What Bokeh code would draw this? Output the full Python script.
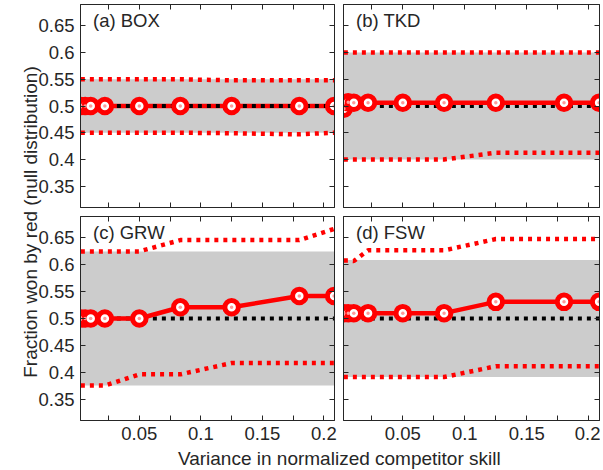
from bokeh.plotting import figure
from bokeh.models import Range1d, LinearAxis, FixedTicker, Label
from bokeh.layouts import row, column
from bokeh.embed import file_html
from bokeh.resources import INLINE

# ---------------- data ----------------
x_var = [0.0025, 0.006, 0.0105, 0.022, 0.05, 0.0833, 0.125, 0.18, 0.2083]
null_level = [0.5, 0.5, 0.5, 0.5, 0.5, 0.5, 0.5, 0.5, 0.5]

box_mean = [0.5, 0.5, 0.5, 0.5, 0.5, 0.5, 0.5, 0.5, 0.5]
box_upper = [0.55, 0.55, 0.55, 0.55, 0.55, 0.55, 0.548, 0.548, 0.548]
box_lower = [0.45, 0.45, 0.45, 0.45, 0.45, 0.45, 0.449, 0.447, 0.45]
box_band_lo = [0.45, 0.45, 0.45, 0.45, 0.45, 0.45, 0.45, 0.45, 0.45]
box_band_hi = [0.55, 0.55, 0.55, 0.55, 0.55, 0.55, 0.55, 0.55, 0.55]

tkd_mean = [0.495, 0.507, 0.506, 0.506, 0.506, 0.506, 0.506, 0.506, 0.506]
tkd_upper = [0.6, 0.6, 0.6, 0.6, 0.6, 0.6, 0.6, 0.6, 0.6]
tkd_lower = [0.4, 0.4, 0.4, 0.4, 0.4, 0.4, 0.4125, 0.4125, 0.4125]
tkd_band_lo = [0.4, 0.4, 0.4, 0.4, 0.4, 0.4, 0.4, 0.4, 0.4]
tkd_band_hi = [0.6, 0.6, 0.6, 0.6, 0.6, 0.6, 0.6, 0.6, 0.6]

grw_mean = [0.5, 0.5, 0.5, 0.5, 0.5, 0.521, 0.521, 0.542, 0.542]
grw_upper = [0.625, 0.625, 0.625, 0.625, 0.625, 0.646, 0.646, 0.646, 0.667]
grw_lower = [0.375, 0.375, 0.375, 0.375, 0.396, 0.396, 0.417, 0.417, 0.417]
grw_band_lo = [0.375, 0.375, 0.375, 0.375, 0.375, 0.375, 0.375, 0.375, 0.375]
grw_band_hi = [0.625, 0.625, 0.625, 0.625, 0.625, 0.625, 0.625, 0.625, 0.625]

fsw_mean = [0.51, 0.51, 0.51, 0.51, 0.51, 0.51, 0.531, 0.531, 0.531]
fsw_upper = [0.608, 0.608, 0.607, 0.627, 0.627, 0.627, 0.648, 0.648, 0.648]
fsw_lower = [0.391, 0.391, 0.391, 0.391, 0.391, 0.391, 0.411, 0.411, 0.411]
fsw_band_lo = [0.391, 0.391, 0.391, 0.391, 0.391, 0.391, 0.391, 0.391, 0.391]
fsw_band_hi = [0.609, 0.609, 0.609, 0.609, 0.609, 0.609, 0.609, 0.609, 0.609]

panel_titles = ["(a) BOX", "(b) TKD", "(c) GRW", "(d) FSW"]

x_ticks = [0.05, 0.1, 0.15, 0.2]
x_tick_labels = ["0.05", "0.1", "0.15", "0.2"]
x_minor_ticks = [0.025, 0.075, 0.125, 0.175]
y_ticks = [0.35, 0.4, 0.45, 0.5, 0.55, 0.6, 0.65]
y_tick_labels = ["0.35", "0.4", "0.45", "0.5", "0.55", "0.6", "0.65"]

x_label = "Variance in normalized competitor skill"
y_label = "Fraction won by red (null distribution)"

X_START, X_END = 0.0022, 0.2086
Y_START, Y_END = 0.31, 0.69

# ---------------- style ----------------
FONT = "Liberation Sans"
INK = "#262626"
RED = "#ff0000"
GRAY = "#cccccc"
TICK_FS = "18.5px"
LABEL_FS = "19px"


def add_axis(p, side, ticks, labels, minor, show):
    ax = LinearAxis(
        ticker=FixedTicker(ticks=ticks, minor_ticks=minor),
        major_label_overrides={t: l for t, l in zip(ticks, labels)},
        axis_line_color=INK, axis_line_width=1,
        major_tick_line_color=INK, minor_tick_line_color=INK,
        major_tick_in=5, major_tick_out=0, minor_tick_in=5, minor_tick_out=0,
        major_label_text_font=FONT,
        major_label_text_font_size=TICK_FS if show else "0px",
        major_label_text_color=INK if show else None,
        major_label_standoff=6 if show else 0,
    )
    p.add_layout(ax, side)


def make_panel(title, mean, upper, lower, band_lo, band_hi, black_on_top,
               show_x, show_y, w, h, bl, br, bt, bb):
    p = figure(width=w, height=h, x_range=Range1d(X_START, X_END),
               y_range=Range1d(Y_START, Y_END), output_backend="svg",
               toolbar_location=None, x_axis_location=None, y_axis_location=None,
               min_border_left=bl, min_border_right=br, min_border_top=bt,
               min_border_bottom=bb, outline_line_color=INK, outline_line_width=1,
               background_fill_color="white", border_fill_color="white",
               border_fill_alpha=0.0)
    p.grid.visible = False
    add_axis(p, "below", x_ticks, x_tick_labels, x_minor_ticks, show_x)
    add_axis(p, "above", x_ticks, x_tick_labels, x_minor_ticks, False)
    add_axis(p, "left", y_ticks, y_tick_labels, [], show_y)
    add_axis(p, "right", y_ticks, y_tick_labels, [], False)

    p.varea(x=x_var, y1=band_lo, y2=band_hi, fill_color=GRAY)
    if not black_on_top:
        p.line(x_var, null_level, line_color="black", line_width=4, line_dash="4 5")
    p.line(x_var, upper, line_color=RED, line_width=4.5, line_dash="4 5")
    p.line(x_var, lower, line_color=RED, line_width=4.5, line_dash="4 5")
    p.line(x_var, mean, line_color=RED, line_width=4.5)
    if black_on_top:
        p.line(x_var, null_level, line_color="black", line_width=4, line_dash="4 5")
    p.scatter(x_var, mean, marker="circle", size=13.5, fill_color="white",
              line_color=RED, line_width=5)
    p.scatter(x_var, mean, marker="circle", size=3.5, fill_color="#ff9a9a",
              line_color=None)

    p.add_layout(Label(x=X_START, y=Y_END, x_offset=12.5, y_offset=-15.6, text=title,
                       text_font=FONT, text_font_size=TICK_FS, text_color=INK,
                       text_baseline="middle", text_align="left"))
    return p


FW = 256
FH_TOP, FH_BOT = 203, 204
LB = 43  # left border of the left panels

fa = make_panel(panel_titles[0], box_mean, box_upper, box_lower, box_band_lo, box_band_hi,
                True, False, True, LB + FW + 4, 4 + FH_TOP + 4, LB, 4, 4, 4)
fb = make_panel(panel_titles[1], tkd_mean, tkd_upper, tkd_lower, tkd_band_lo, tkd_band_hi,
                False, False, False, 5 + FW + 1, 4 + FH_TOP + 4, 5, 1, 4, 4)
fc = make_panel(panel_titles[2], grw_mean, grw_upper, grw_lower, grw_band_lo, grw_band_hi,
                False, True, True, LB + FW + 4, 5 + FH_BOT + 26, LB, 4, 5, 26)
fd = make_panel(panel_titles[3], fsw_mean, fsw_upper, fsw_lower, fsw_band_lo, fsw_band_hi,
                False, True, False, 5 + FW + 1, 5 + FH_BOT + 26, 5, 1, 5, 26)


def blank_fig(w, h):
    p = figure(width=w, height=h, x_range=Range1d(0, w), y_range=Range1d(0, h),
               output_backend="svg", toolbar_location=None, x_axis_location=None,
               y_axis_location=None, min_border=0, min_border_left=0,
               min_border_right=0, min_border_top=0, min_border_bottom=0,
               outline_line_color=None, border_fill_alpha=0.0,
               background_fill_alpha=0.0)
    p.grid.visible = False
    return p


XL_W, XL_H = LB + FW + 4 + 5 + FW + 1, 24
xlab = blank_fig(XL_W, XL_H)
xlab.add_layout(Label(x=303.8, y=11.6, text=x_label, text_font=FONT,
                      text_font_size=LABEL_FS, text_color=INK,
                      text_align="center", text_baseline="middle"))

YL_W, YL_H = 42, 470
ylab = blank_fig(YL_W, YL_H)
ylab.add_layout(Label(x=30.4, y=248.5, text=y_label, angle=1.5707963267948966,
                      text_font=FONT, text_font_size=LABEL_FS, text_color=INK,
                      text_align="center", text_baseline="middle"))
ylab.styles = {"position": "relative", "z-index": "10"}

grid = column(row(fa, fb), row(fc, fd), xlab)
grid.styles = {"margin-left": "-7px"}
layout = row(ylab, grid)

open("out.html", "w").write(file_html(layout, INLINE))
